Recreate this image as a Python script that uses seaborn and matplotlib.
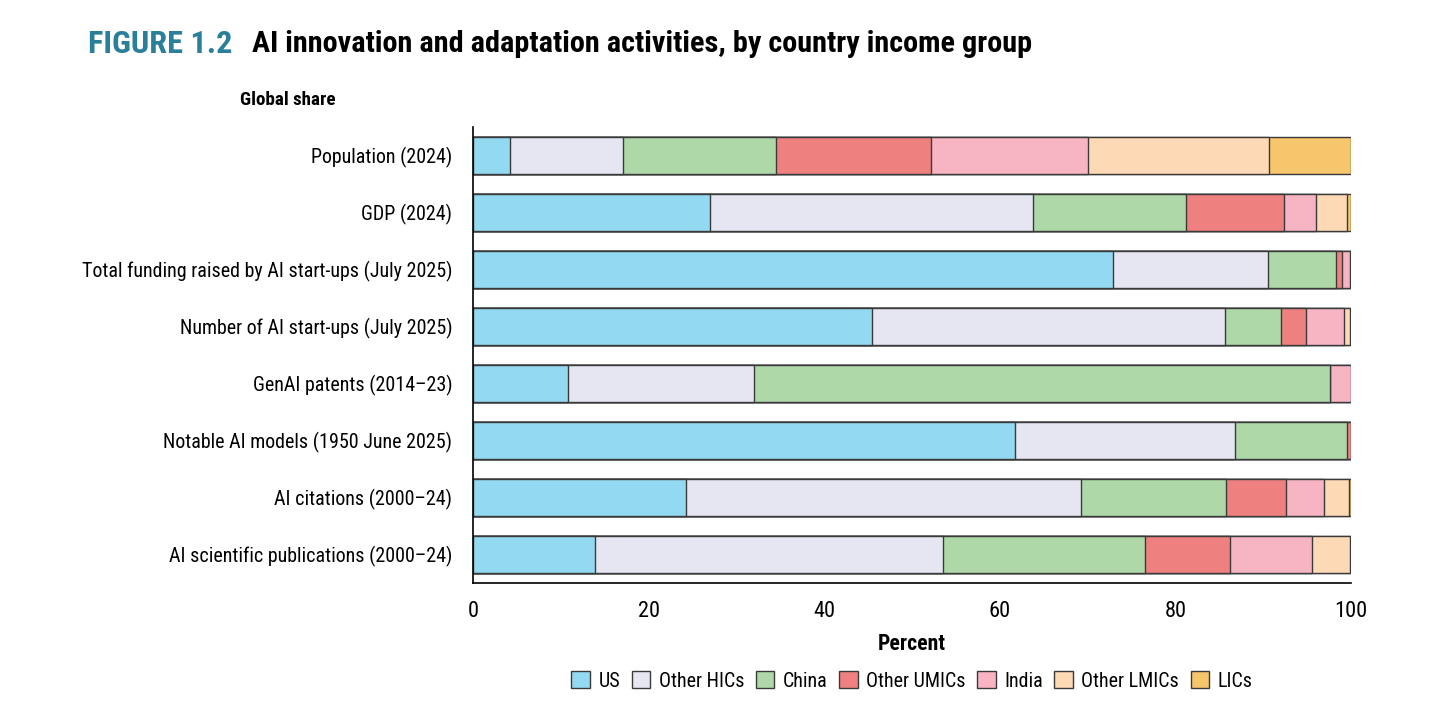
import numpy as np
import pandas as pd
import matplotlib
matplotlib.use('Agg')
import matplotlib.pyplot as plt
import seaborn as sns
from matplotlib.patches import Patch
from matplotlib import font_manager

# Данные (доли в процентах)
categories = ['Population (2024)', 'GDP (2024)',
              'Total funding raised by AI start-ups (July 2025)',
              'Number of AI start-ups (July 2025)', 'GenAI patents (2014–23)',
              'Notable AI models (1950 June 2025)', 'AI citations (2000–24)',
              'AI scientific publications (2000–24)']
groups = ['US', 'Other HICs', 'China', 'Other UMICs', 'India', 'Other LMICs', 'LICs']

us = [4.2, 27.0, 72.9, 45.4, 10.8, 61.7, 24.3, 13.9]
other_hics = [12.9, 36.8, 17.6, 40.2, 21.2, 25.1, 44.9, 39.6]
china = [17.4, 17.4, 7.8, 6.4, 65.6, 12.7, 16.6, 23.0]
other_umics = [17.7, 11.2, 0.7, 2.9, 0.0, 0.5, 6.8, 9.7]
india = [17.8, 3.6, 0.9, 4.3, 2.4, 0.0, 4.3, 9.4]
other_lmics = [20.7, 3.5, 0.1, 0.7, 0.0, 0.0, 2.9, 4.3]
lics = [9.3, 0.5, 0.0, 0.1, 0.0, 0.0, 0.2, 0.2]

colors = ['#93d9f1', '#e6e6f3', '#aed8a8', '#ef8080', '#f7b5c3', '#fdd9b5', '#f5c66c']

sns.set_style('white')

# Ищем узкий шрифт, если он есть
names = sorted({f.name for f in font_manager.fontManager.ttflist})
narrow = [n for n in names if 'Narrow' in n or 'Condensed' in n]
pref = ['Liberation Sans Narrow', 'Roboto Condensed', 'Noto Sans Condensed',
        'Open Sans Condensed', 'DejaVu Sans Condensed']
family = None
for p in pref + narrow:
    if p in names:
        family = p
        break
if family is None:
    family = 'Liberation Sans' if 'Liberation Sans' in names else 'DejaVu Sans'
plt.rcParams['font.family'] = [family, 'DejaVu Sans']
plt.rcParams['text.color'] = 'black'
plt.rcParams['xtick.color'] = 'black'
plt.rcParams['ytick.color'] = 'black'
plt.rcParams['axes.labelcolor'] = 'black'

df = pd.DataFrame({'category': categories})
series = [us, other_hics, china, other_umics, india, other_lmics, lics]
cum = np.cumsum(np.array(series), axis=0)
for g, c in zip(groups, cum):
    df[g] = c

fig = plt.figure(figsize=(14.56, 7.03), dpi=100)
ax = fig.add_axes([473 / 1456, 1 - 582.5 / 703, 878 / 1456, (582.5 - 127) / 703])

# Накопленные суммы рисуем от самой длинной к самой короткой
for g, col in reversed(list(zip(groups, colors))):
    sns.barplot(data=df, x=g, y='category', order=categories, color=col,
                saturation=1, width=0.65, edgecolor='#3a3a3a', linewidth=1,
                orient='h', ax=ax)

ax.set_xlim(0, 100)
ax.set_ylim(7.5, -0.5)
ax.set_xticks([0, 20, 40, 60, 80, 100])
ax.tick_params(axis='x', length=7, width=1.2, labelsize=15, pad=6)
ax.set_yticks(range(len(categories)))
ax.set_yticklabels(categories)
ax.tick_params(axis='y', length=0, labelsize=15, pad=15)
ax.set_yticks(np.arange(0.5, 8, 1), minor=True)
ax.tick_params(axis='y', which='minor', length=7, width=1.2)
ax.set_ylabel('')
ax.set_xlabel('Percent', fontsize=16, fontweight='bold', labelpad=8)
for s in ['top', 'right']:
    ax.spines[s].set_visible(False)
for s in ['left', 'bottom']:
    ax.spines[s].set_color('black')
    ax.spines[s].set_linewidth(1.2)

t1 = fig.text(88 / 1456, 1 - 44 / 703, 'FIGURE 1.2', color='#2a7f9a', fontsize=22,
              fontweight='bold', va='center', ha='left')
t2 = fig.text(252 / 1456, 1 - 44 / 703,
              'AI innovation and adaptation activities, by country income group',
              fontsize=22, fontweight='bold', va='center', ha='left')
t3 = fig.text(240 / 1456, 1 - 100 / 703, 'Global share', fontsize=15, fontweight='bold',
              va='center', ha='left')

handles = [Patch(facecolor=c, edgecolor='#3a3a3a', label=g) for g, c in zip(groups, colors)]
leg = fig.legend(handles=handles, loc='center', bbox_to_anchor=(912 / 1456, 1 - 681 / 703),
                 ncol=7, frameon=False, fontsize=15, handlelength=0.9, handleheight=0.9,
                 handletextpad=0.4, columnspacing=0.55)

# Подгоняем размер шрифтов под ширину текста в оригинале
fig.canvas.draw()
r = fig.canvas.get_renderer()


def fit(t, target):
    w = t.get_window_extent(r).width
    t.set_fontsize(t.get_fontsize() * target / w)


fit(t1, 144)
fit(t2, 778)
fit(t3, 95)
fit(ax.xaxis.label, 68)
lab = ax.get_yticklabels()[2]
w = lab.get_window_extent(r).width
ysize = 15 * 371 / w
ax.tick_params(axis='y', labelsize=ysize)
ax.tick_params(axis='x', labelsize=ysize * 1.12)
for t in leg.get_texts():
    t.set_fontsize(ysize)

fig.savefig('out.png', dpi=100)
